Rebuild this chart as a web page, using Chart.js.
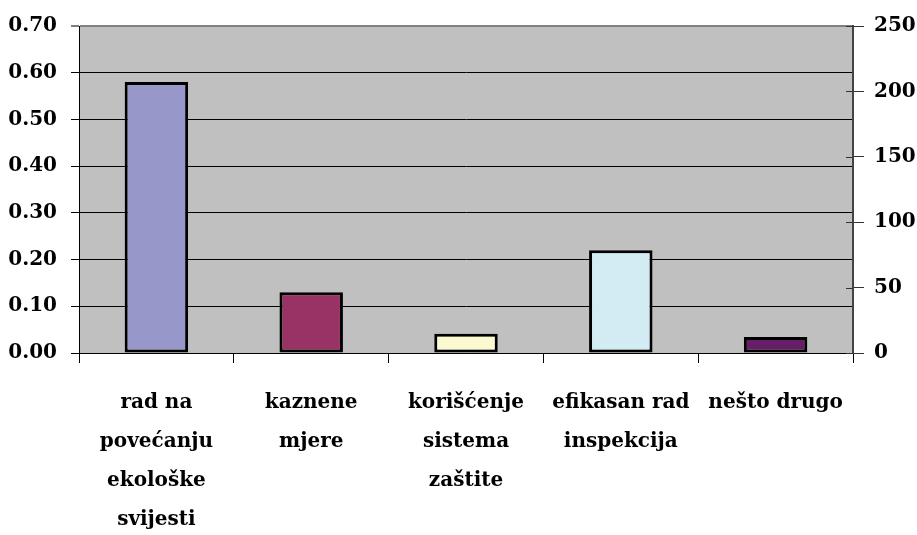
<!DOCTYPE html>
<html>
<head>
<meta charset="utf-8">
<script src="https://cdn.jsdelivr.net/npm/chart.js@4"></script>
<style>
  html, body { margin: 0; padding: 0; background: #fff; }
  #wrap { width: 917px; height: 535px; }
</style>
</head>
<body>
<div id="wrap"><canvas id="myChart" width="917" height="535"></canvas></div>
<script>
const labels = [
  ['rad na', 'povećanju', 'ekološke', 'svijesti'],
  ['kaznene', 'mjere'],
  ['korišćenje', 'sistema', 'zaštite'],
  ['efikasan rad', 'inspekcija'],
  ['nešto drugo']
];
const shares = [0.58, 0.13, 0.041, 0.22, 0.034];
const barColors = ['#9797C9', '#993366', '#FBF9D0', '#D3ECF3', '#661F66'];
const leftTicks = [0, 0.7, 0.1];   // min, max, step
const rightTicks = [0, 250, 50];

const FONT = {family: 'DejaVu Serif', size: 20, weight: 'bold'};

const plotBg = {
  id: 'plotBg',
  beforeDraw(chart) {
    const {ctx, chartArea: a} = chart;
    ctx.save();
    ctx.fillStyle = '#C0C0C0';
    ctx.fillRect(a.left, a.top, a.right - a.left, a.bottom - a.top);
    ctx.restore();
  },
  afterDatasetsDraw(chart) {
    // inner half of the right axis tick marks
    const {ctx} = chart;
    const s = chart.scales.y2;
    ctx.save();
    ctx.strokeStyle = '#333';
    ctx.lineWidth = 1;
    s.ticks.forEach(t => {
      const y = Math.round(s.getPixelForValue(t.value)) + 0.5;
      ctx.beginPath();
      ctx.moveTo(s.left - 7, y);
      ctx.lineTo(s.left, y);
      ctx.stroke();
    });
    ctx.restore();
  }
};

new Chart(document.getElementById('myChart'), {
  type: 'bar',
  data: {
    labels: labels,
    datasets: [{
      data: shares,
      backgroundColor: barColors,
      borderColor: '#000',
      borderWidth: 3,
      borderSkipped: false,
      barPercentage: 0.41,
      categoryPercentage: 1,
      yAxisID: 'y'
    }]
  },
  options: {
    responsive: false,
    animation: false,
    layout: {padding: {top: 26, left: 0, right: 0, bottom: 0}},
    plugins: {legend: {display: false}, tooltip: {enabled: false}},
    scales: {
      x: {
        offset: true,
        grid: {offset: true, drawOnChartArea: false, tickLength: 10, color: '#000'},
        border: {color: '#000', width: 1},
        ticks: {
          color: '#000', font: {...FONT, lineHeight: 1.95},
          padding: 20, maxRotation: 0, autoSkip: false
        },
        afterFit(s) { s.height = 182; }
      },
      y: {
        position: 'left',
        min: leftTicks[0], max: leftTicks[1],
        grid: {
          tickLength: 8,
          color: c => (c.tick && c.tick.value >= 0.7 ? '#808080' : '#000'),
          lineWidth: c => (c.tick && c.tick.value >= 0.7 ? 2 : 1)
        },
        border: {color: '#000', width: 1},
        ticks: {
          stepSize: leftTicks[2], color: '#000', font: FONT, padding: 14,
          callback: v => Number(v).toFixed(2)
        },
        afterFit(s) { s.width = 79; }
      },
      y2: {
        position: 'right',
        display: true,
        min: rightTicks[0], max: rightTicks[1],
        grid: {drawOnChartArea: false, tickLength: 11, color: '#333'},
        border: {color: '#444', width: 2},
        ticks: {stepSize: rightTicks[2], color: '#000', font: FONT, padding: 10},
        afterFit(s) { s.width = 64; }
      }
    }
  },
  plugins: [plotBg]
});
</script>
</body>
</html>
